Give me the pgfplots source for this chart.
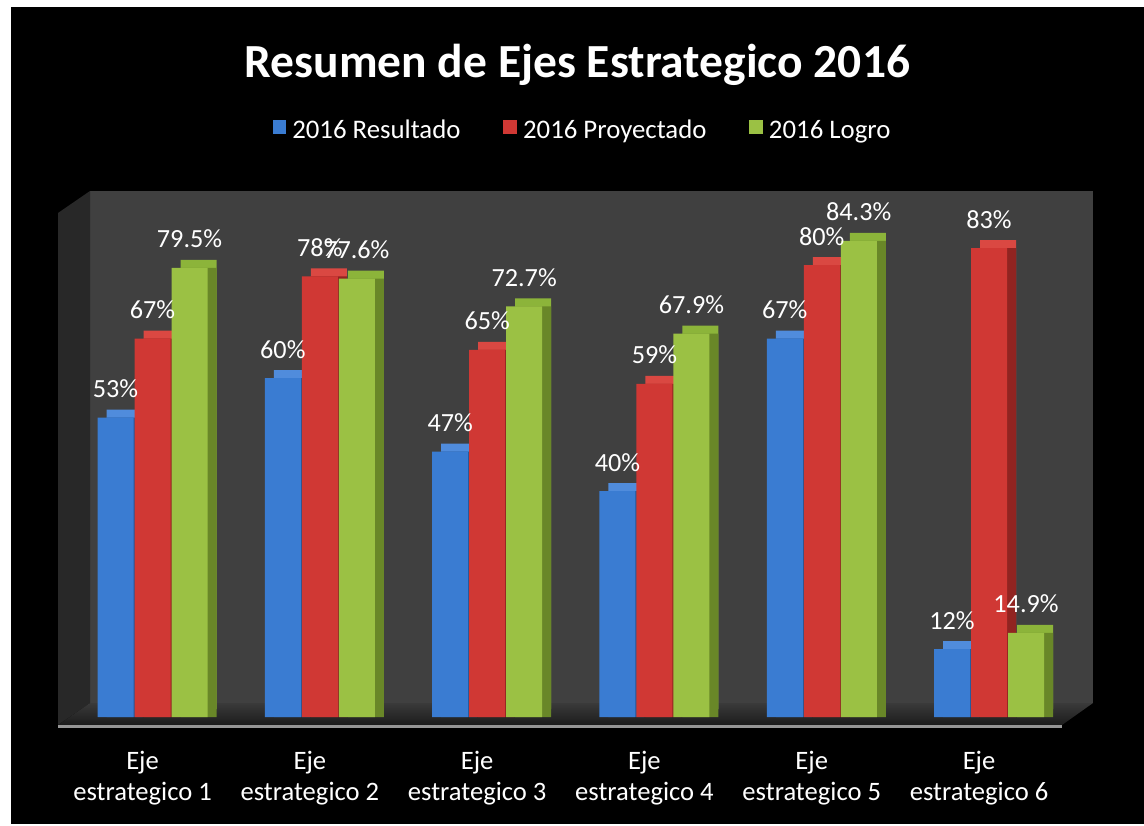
\documentclass[border=0pt]{standalone}
\usepackage{pgfplots}
\pgfplotsset{compat=1.18}
\usepackage{pgfplotstable}
\usepackage{fontspec}
\setmainfont{Carlito}
\definecolor{bfront}{RGB}{58,124,210}
\definecolor{bside}{RGB}{36,86,150}
\definecolor{btop}{RGB}{80,140,220}
\definecolor{rfront}{RGB}{208,56,52}
\definecolor{rside}{RGB}{145,36,33}
\definecolor{rtop}{RGB}{218,72,66}
\definecolor{gfront}{RGB}{155,193,68}
\definecolor{gside}{RGB}{105,135,40}
\definecolor{gtop}{RGB}{140,180,58}
\definecolor{wallback}{RGB}{64,64,64}
\definecolor{wallside}{RGB}{40,40,40}
\definecolor{floorback}{RGB}{58,58,58}
\definecolor{floorfront}{RGB}{28,28,28}
\definecolor{edgegray}{RGB}{150,150,150}
\pgfplotstableread{
x b r g
0 53 67 79.5
1 60 78 77.6
2 47 65 72.7
3 40 59 67.9
4 67 80 84.3
5 12 83 14.9
}\datatab
\begin{document}
\begin{tikzpicture}
\begin{scope}[x=0.5pt,y=-0.5pt,yshift=412.5pt]
  \fill[white] (0,0) rectangle (1144,825);
  \fill[black] (11,7) rectangle (1144,824);
  \fill[wallback] (90,191) rectangle (1093,703);
  \fill[wallside] (58,213) -- (90,191) -- (90,703) -- (58,725) -- cycle;
  \shade[top color=floorback,bottom color=floorfront] (90,703) -- (1093,703) -- (1062,725) -- (58,725) -- cycle;
  \fill[edgegray] (58,725) rectangle (1062,728);
  \node[font=\bfseries\fontsize{23.75}{28}\selectfont, text=white, anchor=base, inner sep=0pt] at (577.5,78) {Resumen de Ejes Estrategico 2016};
\end{scope}
\begin{axis}[
  at={(34.45pt,54pt)}, anchor=south west,
  scale only axis, width=501.9pt, height=282.4pt,
  xmin=-0.5, xmax=5.5, ymin=0, ymax=100,
  clip=false,
  axis line style={draw=none},
  major tick length=0pt,
  ytick=\empty,
  xtick={0,1,2,3,4,5},
  xticklabels={{Eje\\estrategico 1},{Eje\\estrategico 2},{Eje\\estrategico 3},{Eje\\estrategico 4},{Eje\\estrategico 5},{Eje\\estrategico 6}},
  xticklabel style={align=center, text=white, font=\fontsize{13.3}{15.5}\selectfont, anchor=north, inner sep=0pt, yshift=-17pt, xshift=-5pt},
  bar width=18pt,
  every node near coord/.append style={anchor=base, yshift=10pt, inner sep=0pt, text=white, font=\fontsize{13.1}{15}\selectfont},
  legend columns=3,
  legend cell align=left,
  legend style={at={(0.5137,1.0375)}, anchor=center, draw=none, fill=none, text=white, font=\fontsize{13.4}{15}\selectfont, nodes={inner xsep=3pt, inner ysep=0pt}, /tikz/every even column/.append style={column sep=18.5pt}},
]
% top faces
\addplot[ybar, bar width=18pt, bar shift=-14pt, fill=btop, draw=none, yshift=4pt, forget plot] table[x=x,y=b]{\datatab};
\addplot[ybar, bar width=18pt, bar shift=4.5pt, fill=rtop, draw=none, yshift=4pt, forget plot] table[x=x,y=r]{\datatab};
\addplot[ybar, bar width=18pt, bar shift=23pt, fill=gtop, draw=none, yshift=4pt, forget plot] table[x=x,y=g]{\datatab};
% side faces
\addplot[ybar, bar width=18pt, bar shift=-14pt, fill=bside, draw=none, forget plot] table[x=x,y=b]{\datatab};
\addplot[ybar, bar width=18pt, bar shift=4.5pt, fill=rside, draw=none, forget plot] table[x=x,y=r]{\datatab};
\addplot[ybar, bar width=18pt, bar shift=23pt, fill=gside, draw=none, forget plot] table[x=x,y=g]{\datatab};
% fronts
\addplot[ybar, bar width=18pt, bar shift=-18.5pt, fill=bfront, draw=none, point meta=explicit symbolic, nodes near coords={\pgfplotspointmeta\%}, every node near coord/.append style={xshift=-18.5pt}, legend image code/.code={\fill[bfront] (0pt,-1.3pt) rectangle (6.8pt,5.5pt);}] table[x=x,y=b,meta=b]{\datatab};
\addlegendentry{2016 Resultado}
\addplot[ybar, bar width=18pt, bar shift=0pt, fill=rfront, draw=none, point meta=explicit symbolic, nodes near coords={\pgfplotspointmeta\%}, legend image code/.code={\fill[rfront] (0pt,-1.3pt) rectangle (6.8pt,5.5pt);}] table[x=x,y=r,meta=r]{\datatab};
\addlegendentry{2016 Proyectado}
\addplot[ybar, bar width=18pt, bar shift=18.5pt, fill=gfront, draw=none, point meta=explicit symbolic, nodes near coords={\pgfplotspointmeta\%}, every node near coord/.append style={xshift=18.5pt}, legend image code/.code={\fill[gfront] (0pt,-1.3pt) rectangle (6.8pt,5.5pt);}] table[x=x,y=g,meta=g]{\datatab};
\addlegendentry{2016 Logro}
\end{axis}
\end{tikzpicture}
\end{document}
